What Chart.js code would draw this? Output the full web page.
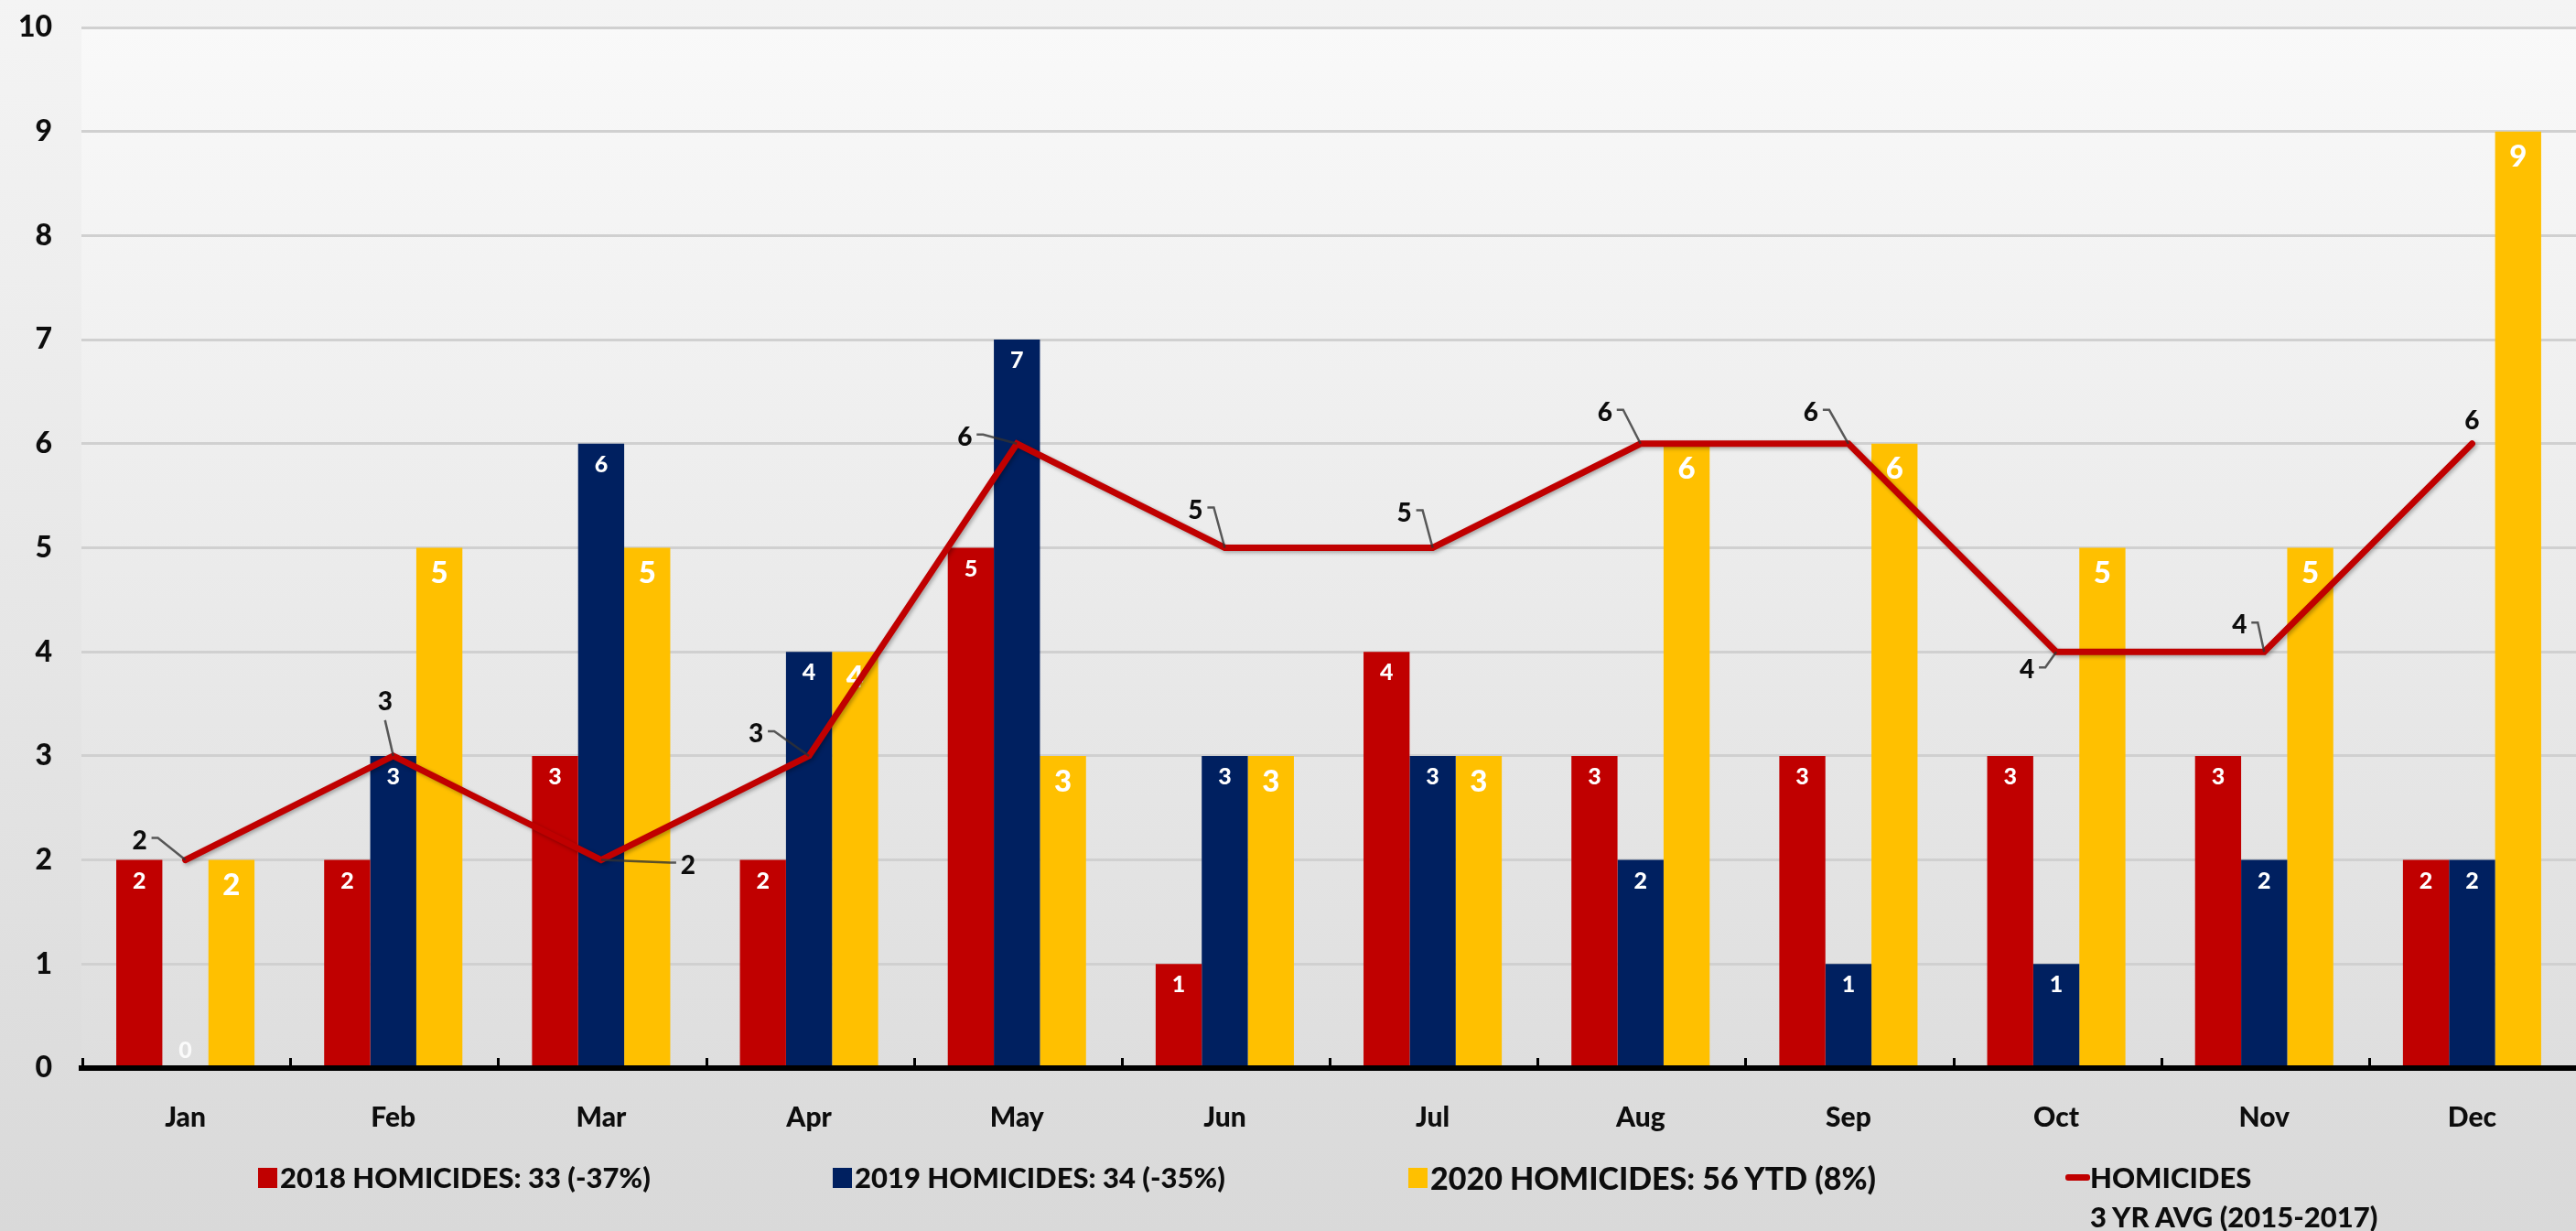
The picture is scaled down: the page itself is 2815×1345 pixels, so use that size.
<!DOCTYPE html>
<html>
<head>
<meta charset="utf-8">
<title>Homicides by month</title>
<script src="https://cdn.jsdelivr.net/npm/chart.js@4.4.1/dist/chart.umd.min.js"></script>
<style>
  html, body { margin: 0; padding: 0; }
  body {
    width: 2815px; height: 1345px; overflow: hidden; position: relative;
    background: linear-gradient(#f4f4f4, #d9d9d9);
    font-family: Lato, sans-serif;
  }
  #wrap { position: absolute; left: 0; top: 0; width: 2815px; height: 1345px; }
  #legend { position: absolute; left: 0; top: 0; width: 100%; height: 100%; pointer-events: none; }
  .item {
    position: absolute; top: 1265px; display: flex; align-items: flex-start;
    font-weight: 900; font-size: 31px; line-height: 43px; color: #0d0d0d; white-space: nowrap;
  }
  .item .box { width: 21px; height: 22px; margin-top: 11px; margin-right: 3px; flex: none; }
  .item .dash { width: 27px; height: 7px; margin-top: 18px; border-radius: 3px; flex: none; }
</style>
</head>
<body>
<div id="wrap"><canvas id="homicideChart"></canvas></div>
<div id="legend"></div>
<script>
const months = ['Jan', 'Feb', 'Mar', 'Apr', 'May', 'Jun', 'Jul', 'Aug', 'Sep', 'Oct', 'Nov', 'Dec'];
const homicides2018 = [2, 2, 3, 2, 5, 1, 4, 3, 3, 3, 3, 2];
const homicides2019 = [0, 3, 6, 4, 7, 3, 3, 2, 1, 1, 2, 2];
const homicides2020 = [2, 5, 5, 4, 3, 3, 3, 6, 6, 5, 5, 9];
const avg2015to2017 = [2, 3, 2, 3, 6, 5, 5, 6, 6, 4, 4, 6];

const seriesNames = [
  '2018 HOMICIDES: 33 (-37%)',
  '2019 HOMICIDES: 34 (-35%)',
  '2020 HOMICIDES: 56 YTD (8%)',
  ['HOMICIDES', '3 YR AVG (2015-2017)']
];

// where each average label sits relative to its point
const avgLabelPos = [
  { dx: -50, dy: -21 }, { dx: -9, dy: -59 }, { dx: 95, dy: 6 }, { dx: -58, dy: -24 },
  { dx: -57, dy: -7 }, { dx: -32, dy: -41 }, { dx: -31, dy: -38 }, { dx: -39, dy: -34 },
  { dx: -41, dy: -34 }, { dx: -32, dy: 20 }, { dx: -27, dy: -29 }, { dx: 0, dy: -25, leader: false }
];
const legendX = [282, 910, 1539, 2257];

const RED = '#C00000', NAVY = '#002060', GOLD = '#FFC000';
const FONT = 'Lato, sans-serif';

Chart.defaults.font.family = FONT;
Chart.defaults.font.weight = 900;

// light gradient behind the plot
const plotBackground = {
  id: 'plotBackground',
  beforeDraw(chart) {
    const { ctx, chartArea: a } = chart;
    const g = ctx.createLinearGradient(0, a.top, 0, a.bottom);
    g.addColorStop(0, '#f9f9f9');
    g.addColorStop(1, '#dedede');
    ctx.save();
    ctx.fillStyle = g;
    ctx.fillRect(a.left, a.top, a.right - a.left, a.bottom - a.top);
    ctx.restore();
  },
  beforeDatasetsDraw(chart) {
    // short tick marks standing on the x axis between months
    const { ctx, chartArea: a } = chart;
    const step = (a.right - a.left) / months.length;
    ctx.save();
    ctx.strokeStyle = '#000';
    ctx.lineWidth = 3;
    for (let i = 0; i <= months.length; i++) {
      const x = Math.round(a.left + i * step) + 1.5;
      ctx.beginPath();
      ctx.moveTo(x, a.bottom);
      ctx.lineTo(x, a.bottom - 11);
      ctx.stroke();
    }
    ctx.restore();
  }
};

// values inside the bars, shadow under the average line
const valueLabels = {
  id: 'valueLabels',
  beforeDatasetDraw(chart, args) {
    if (args.meta.type === 'line') {
      const ctx = chart.ctx;
      ctx.save();
      ctx.shadowColor = 'rgba(0,0,0,0.3)';
      ctx.shadowBlur = 4;
      ctx.shadowOffsetX = 2;
      ctx.shadowOffsetY = 2;
    }
  },
  afterDatasetDraw(chart, args) {
    const ctx = chart.ctx;
    const meta = args.meta;
    const ds = chart.data.datasets[args.index];
    if (meta.type === 'line') {
      ctx.restore();
      return;
    }
    ctx.save();
    ctx.fillStyle = '#fff';
    ctx.textAlign = 'center';
    ctx.textBaseline = 'middle';
    ctx.font = '900 ' + ds.labelSize + 'px ' + FONT;
    meta.data.forEach((bar, i) => {
      const v = ds.data[i];
      const y = v === 0 ? bar.base - 19 : bar.y + ds.labelOffset;
      ctx.globalAlpha = v === 0 ? 0.85 : 1;
      ctx.fillText(String(v), bar.x, y);
    });
    ctx.restore();
  },
  afterDatasetsDraw(chart) {
    const ctx = chart.ctx;
    const idx = chart.data.datasets.findIndex(d => d.type === 'line');
    const meta = chart.getDatasetMeta(idx);
    const data = chart.data.datasets[idx].data;
    ctx.save();
    ctx.font = '900 28px ' + FONT;
    ctx.textAlign = 'center';
    ctx.textBaseline = 'middle';
    meta.data.forEach((pt, i) => {
      const p = avgLabelPos[i];
      const lx = pt.x + p.dx, ly = pt.y + p.dy;
      if (p.leader !== false) {
        ctx.strokeStyle = 'rgba(50,50,50,0.8)';
        ctx.lineWidth = 2.5;
        ctx.beginPath();
        if (Math.abs(p.dx) < Math.abs(p.dy) * 0.4) {
          ctx.moveTo(lx, ly + Math.sign(-p.dy) * 20);
        } else {
          const side = Math.sign(p.dx) || 1;
          const sx = lx - side * 13;
          ctx.moveTo(sx, ly - 3);
          ctx.lineTo(sx - side * 7, ly - 3);
        }
        ctx.lineTo(pt.x, pt.y);
        ctx.stroke();
      }
      ctx.fillStyle = '#0d0d0d';
      ctx.fillText(String(data[i]), lx, ly);
    });
    ctx.restore();
  }
};

const barSet = (label, data, color, labelSize, labelOffset) => ({
  type: 'bar', label, data, backgroundColor: color, borderWidth: 0,
  categoryPercentage: 0.665, barPercentage: 1, order: 1, labelSize, labelOffset
});

const chart = new Chart(document.getElementById('homicideChart'), {
  data: {
    labels: months,
    datasets: [
      barSet(seriesNames[0], homicides2018, RED, 25, 23),
      barSet(seriesNames[1], homicides2019, NAVY, 25, 23),
      barSet(seriesNames[2], homicides2020, GOLD, 33, 28),
      {
        type: 'line', label: seriesNames[3], data: avg2015to2017,
        borderColor: RED, backgroundColor: RED, borderWidth: 7,
        pointRadius: 0, tension: 0, borderCapStyle: 'round', order: 0
      }
    ]
  },
  options: {
    responsive: true,
    maintainAspectRatio: false,
    animation: false,
    layout: { padding: { top: 30, right: 0, bottom: 0, left: 0 } },
    plugins: { legend: { display: false }, tooltip: { enabled: false } },
    scales: {
      x: {
        grid: { display: false },
        border: { display: true, color: '#000', width: 6, z: 1 },
        ticks: { color: '#0d0d0d', font: { size: 30, weight: 900 }, padding: 28 },
        afterFit(s) { s.height = 178; }
      },
      y: {
        min: 0, max: 10,
        grid: { color: '#d0d0d0', lineWidth: 3, drawTicks: false },
        border: { display: false },
        ticks: { stepSize: 1, color: '#0d0d0d', font: { size: 32, weight: 900 }, padding: 32 },
        afterFit(s) {
          s.width = 89;
          // the tick padding only pushes labels sideways here
          s.paddingTop = 0;
          s.paddingBottom = 0;
        }
      }
    }
  },
  plugins: [plotBackground, valueLabels]
});

// legend row under the axis
const legend = document.getElementById('legend');
chart.data.datasets.forEach((ds, i) => {
  const item = document.createElement('div');
  item.className = 'item';
  item.style.left = legendX[i] + 'px';
  const mark = document.createElement('div');
  mark.className = ds.type === 'line' ? 'dash' : 'box';
  mark.style.background = ds.type === 'line' ? ds.borderColor : ds.backgroundColor;
  const text = document.createElement('div');
  text.innerHTML = [].concat(ds.label).join('<br>');
  if (i === 2) text.style.fontSize = '34px';
  item.appendChild(mark);
  item.appendChild(text);
  legend.appendChild(item);
});
</script>
</body>
</html>
